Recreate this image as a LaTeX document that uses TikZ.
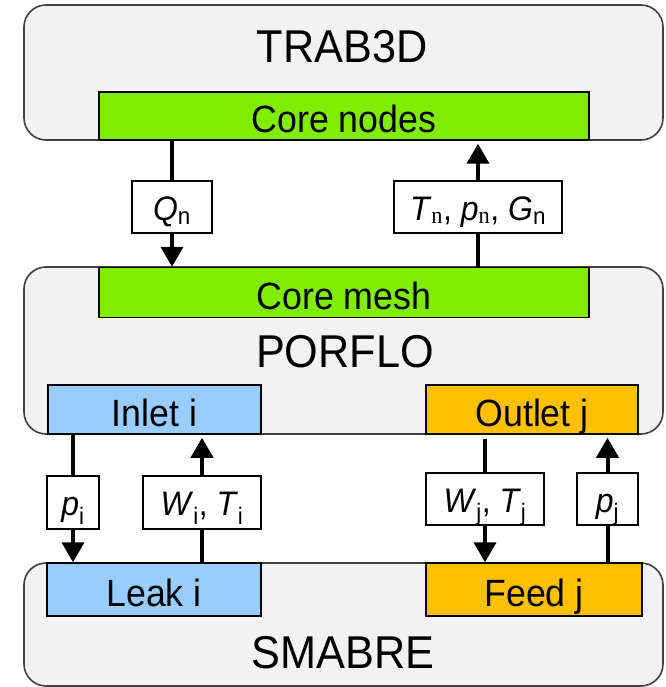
\documentclass[tikz,border=0pt]{standalone}
\usepackage{fontspec}
\setmainfont[FakeStretch=0.94]{Liberation Sans}
\newfontfamily\serifn[FakeStretch=0.94]{Liberation Serif}
\usetikzlibrary{arrows.meta}
\definecolor{codegray}{RGB}{242,242,242}
\definecolor{meshgreen}{RGB}{128,236,0}
\definecolor{inletblue}{RGB}{153,204,255}
\definecolor{outletorange}{RGB}{255,192,0}
\newcommand{\vsub}[2]{\textit{#1}\textsubscript{#2}}
\tikzset{x=1pt, y=-1pt,
code/.style={ % Sets the properties for each code block
draw=black!75,
line width=1.6pt,
fill=codegray,
rounded corners=22pt,
minimum width=639pt},
title/.style={font=\fontsize{46}{50}\selectfont},
part/.style={ % Coupled regions inside a code
draw,
line width=1.5pt,
inner sep=0pt,
text height=34pt, text depth=0pt,
font=\fontsize{38}{42}\selectfont},
var/.style={ % Exchanged quantities
draw,
fill=white,
line width=1.3pt,
inner sep=0pt,
text height=26pt, text depth=0pt,
font=\fontsize{34}{38}\selectfont},
link/.style={line width=4pt},
flow/.style={ % Makes edges directed with bold arrowheads
line width=4pt,
-{Triangle[width=22pt,length=20pt]}}}

\begin{document}
\begin{tikzpicture}
\useasboundingbox (0,0) rectangle (665,687);
\node[code, minimum height=135pt] (trab) at (343.5,72.5) {};
\node[code, minimum height=167pt] (porflo) at (343.5,350.5) {};
\node[code, minimum height=123pt] (smabre) at (343.5,624.5) {};
\node[title] (trabtitle) at (342,47) {TRAB3D};
\node[title] (porflotitle) at (345,352) {PORFLO};
\node[title] (smabretitle) at (343,653) {SMABRE};
\node[part, fill=meshgreen, minimum width=490pt, minimum height=48pt] (corenodes) at (344,116) {Core nodes};
\node[part, fill=meshgreen, minimum width=490pt, minimum height=50pt] (coremesh) at (344,292.5) {Core mesh};
\node[part, fill=inletblue, minimum width=213pt, minimum height=49pt] (inlet) at (154.5,409.5) {Inlet i};
\node[part, fill=outletorange, minimum width=212pt, minimum height=49pt] (outlet) at (532,409.5) {Outlet j};
\node[part, fill=inletblue, minimum width=214pt, minimum height=53pt] (leak) at (154,589.5) {Leak i};
\node[part, fill=outletorange, minimum width=216pt, minimum height=53pt] (feed) at (534,589.5) {Feed j};
\node[var, minimum width=80pt, minimum height=52pt] (qn) at (172,207) {\vsub{Q}{n}};
\node[var, minimum width=168pt, minimum height=52pt] (tpg) at (478,207) {\textit{T}\textsubscript{\serifn n}, \textit{p}\textsubscript{\serifn n}, \vsub{G}{n}};
\node[var, minimum width=52pt, minimum height=53pt] (pin) at (73,502.5) {\vsub{p}{i}};
\node[var, minimum width=118pt, minimum height=53pt] (wtin) at (202,502.5) {\vsub{W}{i}, \vsub{T}{i}};
\node[var, minimum width=118pt, minimum height=52pt] (wtout) at (485,499) {\vsub{W}{j}, \vsub{T}{j}};
\node[var, minimum width=61pt, minimum height=52pt] (pout) at (607.5,499) {\vsub{p}{j}};
\draw[link] (corenodes.south -| qn) -- (qn.north);
\draw[flow] (qn.south) -- (coremesh.north -| qn);
\draw[link] (coremesh.north -| tpg) -- (tpg.south);
\draw[flow, shorten >=3pt] (tpg.north) -- (corenodes.south -| tpg);
\draw[link] (inlet.south -| pin) -- (pin.north);
\draw[flow] (pin.south) -- (leak.north -| pin);
\draw[link] (leak.north -| wtin) -- (wtin.south);
\draw[flow, shorten >=3pt] (wtin.north) -- (inlet.south -| wtin);
\draw[link, shorten <=4pt] (outlet.south -| wtout) -- (wtout.north);
\draw[flow] (wtout.south) -- (feed.north -| wtout);
\draw[link] (feed.north -| pout) -- (pout.south);
\draw[flow, shorten >=3pt] (pout.north) -- (outlet.south -| pout);
\end{tikzpicture}
\end{document}
